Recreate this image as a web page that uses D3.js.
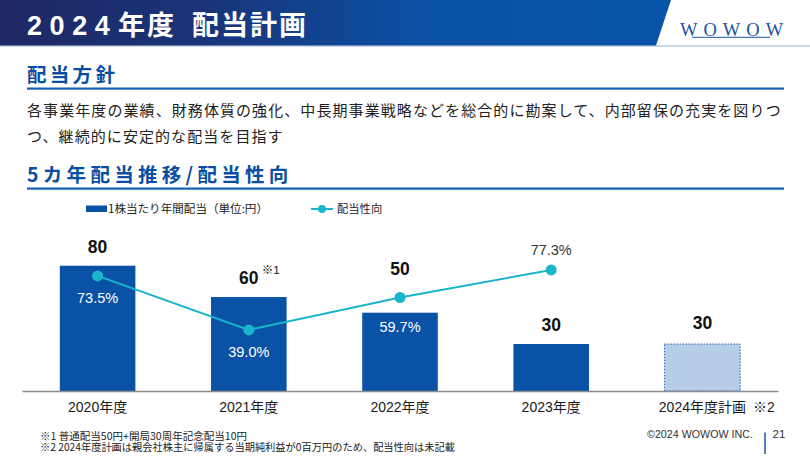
<!DOCTYPE html>
<html><head><meta charset="utf-8">
<script src="https://cdn.jsdelivr.net/npm/d3@7/dist/d3.min.js"></script>
<style>
html,body{margin:0;padding:0;background:#fff;}
svg{display:block;}
</style></head>
<body>
<svg id="c" width="810" height="467"></svg>
<script>
// ---- data ----
const categories = ["2020年度","2021年度","2022年度","2023年度","2024年度計画"];
const dividends  = [80, 60, 50, 30, 30];               // 1株当たり年間配当（円）
const payout     = [73.5, 39.0, 59.7, 77.3, null];     // 配当性向（%）
const planned    = [false, false, false, false, true];
const valueNotes = ["", "※1", "", "", ""];
const axisNotes  = ["", "", "", "", "※2"];
const legendLabels = ["1株当たり年間配当（単位:円）", "配当性向"];
const bodyLines = [
  "各事業年度の業績、財務体質の強化、中長期事業戦略などを総合的に勘案して、内部留保の充実を図りつ",
  "つ、継続的に安定的な配当を目指す"
];
const footnotes = [
  "※1 普通配当50円+開局30周年記念配当10円",
  "※2 2024年度計画は親会社株主に帰属する当期純利益が0百万円のため、配当性向は未記載"
];

const JP = "'Noto Sans CJK JP','Noto Sans',sans-serif";
const LAT = "'Liberation Sans','Noto Sans CJK JP',sans-serif";
const svg = d3.select("#c");

// ---- header ----
const defs = svg.append("defs");
const g1 = defs.append("linearGradient").attr("id","hg").attr("x1","0").attr("x2","1").attr("y1","0").attr("y2","0");
g1.append("stop").attr("offset","0").attr("stop-color","#1e2864");
g1.append("stop").attr("offset","0.3").attr("stop-color","#1a3478");
g1.append("stop").attr("offset","0.62").attr("stop-color","#0b50a3");
g1.append("stop").attr("offset","1").attr("stop-color","#0854a8");
svg.append("rect").attr("x",0).attr("y",45).attr("width",810).attr("height",2).attr("fill","#cbd7e8");
svg.append("path").attr("d","M0,0 L671,0 L656,45.5 L0,45.5 Z").attr("fill","url(#hg)");
const tt = svg.append("text").attr("y",35).attr("fill","#fff")
  .attr("font-family",LAT).attr("font-weight","bold").attr("font-size",27);
tt.append("tspan").attr("x",27).attr("letter-spacing",7.6).text("2024");
tt.append("tspan").attr("x",118).attr("font-family",JP).attr("letter-spacing",2).text("年度");
tt.append("tspan").attr("x",192).attr("font-family",JP).attr("letter-spacing",2).text("配当計画");

svg.append("text").attr("x",680).attr("y",36).attr("fill","#2150a0")
  .attr("font-family","'Liberation Serif',serif").attr("font-size",18.5)
  .attr("letter-spacing",6).text("WOWOW");
svg.append("line").attr("x1",692).attr("x2",770).attr("y1",37.3).attr("y2",37.3)
  .attr("stroke","#2150a0").attr("stroke-width",1);

// ---- section headings ----
function heading(txt, y, ls){
  svg.append("text").attr("x",27).attr("y",y).attr("fill","#0a4ea3")
    .attr("font-family",JP).attr("font-weight","bold").attr("font-size",19.5)
    .attr("letter-spacing",ls).text(txt);
  svg.append("rect").attr("x",27).attr("y",y+5.5).attr("width",757).attr("height",2.2).attr("fill","#1261b3");
}
heading("配当方針", 82, 3.3);
heading("5カ年配当推移/配当性向", 182, 4.3);

bodyLines.forEach((t,i)=>{
  svg.append("text").attr("x",27).attr("y",115.5 + i*26).attr("fill","#222")
    .attr("font-family",JP).attr("font-size",15).attr("letter-spacing",1.08).text(t);
});

// ---- chart ----
const x = d3.scaleBand().domain(categories).range([22,778]).paddingInner(0.5).paddingOuter(0.25);
const y = d3.scaleLinear().domain([0,100]).range([391,234.4]);
const data = categories.map((c,i)=>({c, v:dividends[i], p:payout[i], plan:planned[i], vn:valueNotes[i], an:axisNotes[i], i}));
const cx = d => x(d.c) + x.bandwidth()/2;

const BAR = "#0a52a6", LINE = "#19b5cb";

// bars
svg.append("g").selectAll("rect").data(data).join("rect")
  .attr("x",d=>x(d.c)).attr("width",x.bandwidth())
  .attr("y",d=>y(d.v)).attr("height",d=>y(0)-y(d.v))
  .attr("fill",d=>d.plan ? "#b5cde7" : BAR)
  .attr("stroke",d=>d.plan ? "#2c63b3" : "none")
  .attr("stroke-width",1).attr("stroke-dasharray",d=>d.plan ? "1.5,1.5" : null);

// axis
const TICK_FS = 14;
const ax = svg.append("g").attr("transform",`translate(0,${y(0)})`)
  .call(d3.axisBottom(x).tickSize(0).tickPadding(11));
ax.select(".domain").attr("stroke","#8c8c8c").attr("stroke-width",1.3);
ax.selectAll(".tick text").attr("font-family",LAT).attr("font-size",TICK_FS).attr("fill","#1a1a1a");
ax.selectAll(".tick").each(function(d,i){
  const note = data[i].an;
  if(!note) return;
  // estimated width of label: digits ≈ 0.556em, CJK = 1em
  const w = Array.from(d).reduce((s,ch)=>s + (/[0-9]/.test(ch) ? 0.556 : 1), 0) * TICK_FS;
  d3.select(this).append("text").attr("x",w/2+7).attr("y",11).attr("dy","0.71em")
    .attr("text-anchor","start")
    .attr("font-family",LAT).attr("font-size",TICK_FS).attr("fill","#1a1a1a").text(note);
});

// line
const line = d3.line().defined(d=>d.p!=null).x(cx).y(d=>y(d.p));
svg.append("path").datum(data).attr("d",line).attr("fill","none").attr("stroke",LINE).attr("stroke-width",2);
svg.append("g").selectAll("circle").data(data.filter(d=>d.p!=null)).join("circle")
  .attr("cx",cx).attr("cy",d=>y(d.p)).attr("r",5.5).attr("fill",LINE);

// value labels (2022 label sits above the line point)
svg.append("g").selectAll("text").data(data).join("text")
  .attr("x",cx)
  .attr("y",d=>{
    if(d.i===2) return y(d.p)-23;
    return y(d.v) - (d.plan ? 15 : 12.7);
  })
  .attr("text-anchor","middle").attr("font-family",LAT).attr("font-weight","bold")
  .attr("font-size",17.5).attr("fill","#111").text(d=>d.v);
data.filter(d=>d.vn).forEach(d=>{
  svg.append("text").attr("x",cx(d)+13).attr("y",y(d.v)-23)
    .attr("font-family",LAT).attr("font-size",11.5).attr("fill","#111").text(d.vn);
});

// percent labels: last one sits above its point, others below inside the bar
const pctAbove = i => i === 3;
svg.append("g").selectAll("text").data(data.filter(d=>d.p!=null)).join("text")
  .attr("x",cx)
  .attr("y",d=>{
    if(pctAbove(d.i)) return y(d.p)-15.4;
    return y(d.p) + (d.i===2 ? 34.4 : 26.7);
  })
  .attr("text-anchor","middle").attr("font-family",LAT).attr("font-size",14.5)
  .attr("fill",d=> pctAbove(d.i) ? "#333" : "#fff")
  .text(d=>d.p.toFixed(1)+"%");

// legend
const lg = svg.append("g");
lg.append("rect").attr("x",86).attr("y",205.5).attr("width",21).attr("height",6.5).attr("fill",BAR);
lg.append("text").attr("x",108).attr("y",213.3).attr("font-family",JP).attr("font-size",11.5)
  .attr("fill","#222").attr("textLength",160).attr("lengthAdjust","spacingAndGlyphs").text(legendLabels[0]);
lg.append("line").attr("x1",311).attr("x2",333).attr("y1",209).attr("y2",209).attr("stroke",LINE).attr("stroke-width",2);
lg.append("circle").attr("cx",322).attr("cy",209).attr("r",4).attr("fill",LINE);
lg.append("text").attr("x",337).attr("y",213.3).attr("font-family",JP).attr("font-size",11.3).attr("fill","#222").text(legendLabels[1]);

// footnotes
const fnLen = [207, 415];
footnotes.forEach((t,i)=>{
  svg.append("text").attr("x",40).attr("y",439.5 + i*11.5).attr("font-family",JP).attr("font-size",10)
    .attr("fill","#222").attr("textLength",fnLen[i]).attr("lengthAdjust","spacingAndGlyphs").text(t);
});
svg.append("text").attr("x",647).attr("y",437.5).attr("font-family",LAT).attr("font-size",10.5)
  .attr("fill","#333").attr("textLength",106).attr("lengthAdjust","spacingAndGlyphs").text("©2024 WOWOW INC.");
svg.append("line").attr("x1",765).attr("x2",765).attr("y1",432.5).attr("y2",454).attr("stroke","#1a55a8").attr("stroke-width",1.5);
svg.append("text").attr("x",772.5).attr("y",437.5).attr("font-family",LAT).attr("font-size",11.5).attr("fill","#333").text("21");
</script>
</body></html>
